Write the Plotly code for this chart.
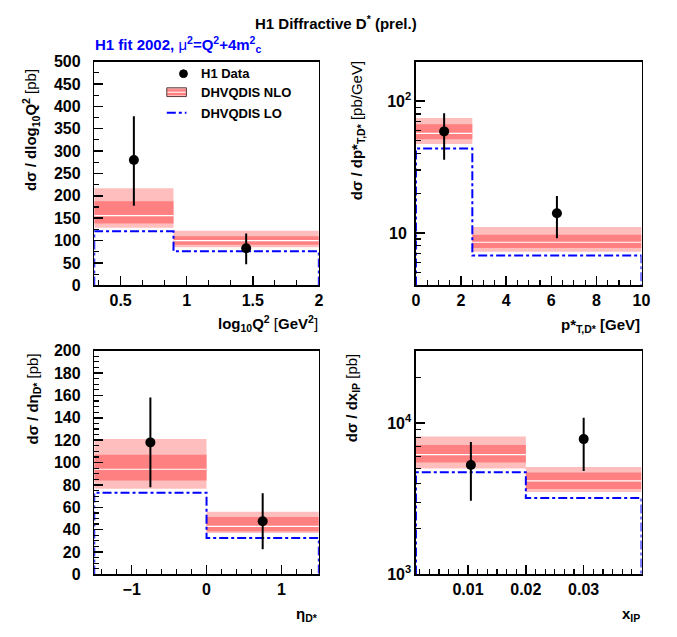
import math
import plotly.graph_objects as go

# ---------------- data ----------------
# Panel 1: d sigma / d log10 Q^2
q2_edges = [0.3, 0.9, 2.0]
q2_x = [0.6, 1.45]
q2_y = [280, 83]
q2_err_up = [98, 33]
q2_err_dn = [102, 36]
q2_nlo = [156, 100]
q2_nlo_in_lo = [138, 91]
q2_nlo_in_hi = [188, 110]
q2_nlo_out_lo = [129, 85]
q2_nlo_out_hi = [217, 122]
q2_lo = [121, 76]

# Panel 2: d sigma / d pT*
pt_edges = [0.0, 2.5, 10.0]
pt_x = [1.25, 6.25]
pt_y = [59, 14.1]
pt_err_up = [22, 5.0]
pt_err_dn = [23, 5.0]
pt_nlo = [57, 8.5]
pt_nlo_in_lo = [51.4, 7.7]
pt_nlo_in_hi = [66.7, 9.7]
pt_nlo_out_lo = [47.4, 7.2]
pt_nlo_out_hi = [74.6, 11.1]
pt_lo = [43.7, 6.74]

# Panel 3: d sigma / d eta
eta_edges = [-1.5, 0.0, 1.5]
eta_x = [-0.75, 0.75]
eta_y = [118, 47.6]
eta_err_up = [40, 25]
eta_err_dn = [40, 25]
eta_nlo = [94, 43]
eta_nlo_in_lo = [84, 38.6]
eta_nlo_in_hi = [107, 51.3]
eta_nlo_out_lo = [76.5, 37.1]
eta_nlo_out_hi = [121, 56]
eta_lo = [73, 32.5]

# Panel 4: d sigma / d x_IP
xp_edges = [0.001, 0.02, 0.04]
xp_x = [0.0105, 0.03]
xp_y = [5270, 7820]
xp_err_up = [2200, 2980]
xp_err_dn = [2210, 3000]
xp_nlo = [6170, 4140]
xp_nlo_in_lo = [5480, 3660]
xp_nlo_in_hi = [7150, 4700]
xp_nlo_out_lo = [5010, 3500]
xp_nlo_out_hi = [8130, 5120]
xp_lo = [4720, 3200]

# ---------------- style ----------------
W, H = 677, 637
FONT = "Liberation Sans"
LIGHT = "rgb(255,190,190)"
DARK = "rgb(255,128,128)"
BLUE = "rgb(0,0,255)"
NB = "\u00a0"


def px(x):
    return x / W


def py(y):
    return 1 - y / H


def rects(edges, lo, hi):
    xs, ys = [], []
    for i in range(len(lo)):
        x0, x1 = edges[i], edges[i + 1]
        xs += [x0, x1, x1, x0, x0, None]
        ys += [lo[i], lo[i], hi[i], hi[i], lo[i], None]
    return xs, ys


def segs(edges, v):
    xs, ys = [], []
    for i in range(len(v)):
        xs += [edges[i], edges[i + 1], None]
        ys += [v[i], v[i], None]
    return xs, ys


def steps(edges, v, base):
    xs = [edges[0]]
    ys = [base]
    for i in range(len(v)):
        xs += [edges[i], edges[i + 1]]
        ys += [v[i], v[i]]
    xs.append(edges[-1])
    ys.append(base)
    return xs, ys


fig = go.Figure()

panels = [
    dict(ax="", edges=q2_edges, x=q2_x, y=q2_y, up=q2_err_up, dn=q2_err_dn, nlo=q2_nlo,
         ilo=q2_nlo_in_lo, ihi=q2_nlo_in_hi, olo=q2_nlo_out_lo, ohi=q2_nlo_out_hi, lo=q2_lo, base=0),
    dict(ax="2", edges=pt_edges, x=pt_x, y=pt_y, up=pt_err_up, dn=pt_err_dn, nlo=pt_nlo,
         ilo=pt_nlo_in_lo, ihi=pt_nlo_in_hi, olo=pt_nlo_out_lo, ohi=pt_nlo_out_hi, lo=pt_lo, base=4),
    dict(ax="3", edges=eta_edges, x=eta_x, y=eta_y, up=eta_err_up, dn=eta_err_dn, nlo=eta_nlo,
         ilo=eta_nlo_in_lo, ihi=eta_nlo_in_hi, olo=eta_nlo_out_lo, ohi=eta_nlo_out_hi, lo=eta_lo, base=0),
    dict(ax="4", edges=xp_edges, x=xp_x, y=xp_y, up=xp_err_up, dn=xp_err_dn, nlo=xp_nlo,
         ilo=xp_nlo_in_lo, ihi=xp_nlo_in_hi, olo=xp_nlo_out_lo, ohi=xp_nlo_out_hi, lo=xp_lo, base=1000),
]

for p in panels:
    xa = "x" + p["ax"]
    ya = "y" + p["ax"]
    xs, ys = rects(p["edges"], p["olo"], p["ohi"])
    fig.add_trace(go.Scatter(x=xs, y=ys, fill="toself", fillcolor=LIGHT, mode="lines",
                             line=dict(width=0), xaxis=xa, yaxis=ya, showlegend=False, hoverinfo="skip"))
    xs, ys = rects(p["edges"], p["ilo"], p["ihi"])
    fig.add_trace(go.Scatter(x=xs, y=ys, fill="toself", fillcolor=DARK, mode="lines",
                             line=dict(width=0), xaxis=xa, yaxis=ya, showlegend=False, hoverinfo="skip"))
    xs, ys = segs(p["edges"], p["nlo"])
    fig.add_trace(go.Scatter(x=xs, y=ys, mode="lines", line=dict(color="white", width=1.2),
                             xaxis=xa, yaxis=ya, showlegend=False, hoverinfo="skip"))
    xs, ys = steps(p["edges"], p["lo"], p["base"])
    fig.add_trace(go.Scatter(x=xs, y=ys, mode="lines", line=dict(color=BLUE, width=2, dash="dashdot"),
                             xaxis=xa, yaxis=ya, showlegend=False, hoverinfo="skip"))
    fig.add_trace(go.Scatter(x=p["x"], y=p["y"], mode="markers",
                             marker=dict(color="black", size=10),
                             error_y=dict(type="data", symmetric=False, array=p["up"], arrayminus=p["dn"],
                                          color="black", thickness=2, width=0),
                             xaxis=xa, yaxis=ya, showlegend=False))

tickfont = dict(family=FONT, size=16, color="black", weight="bold")
common = dict(showgrid=False, zeroline=False, showline=True, linecolor="black", linewidth=1.5,
              mirror=True, ticks="inside", ticklen=9, tickwidth=1.5, tickcolor="black",
              tickfont=tickfont)

# domains
xd_left = [px(92), px(321)]
xd_right = [px(420), px(650)]
yd_top = [py(285), py(55)]
yd_bot = [py(582), py(352)]

fig.update_layout(
    xaxis=dict(domain=xd_left, anchor="y", range=[0.3, 2.0], tickvals=[0.5, 1, 1.5, 2],
               ticktext=["0.5", "1", "1.5", "2"],
               minor=dict(ticks="inside", ticklen=5, dtick=0.5 / 3, tick0=0, tickcolor="black", tickwidth=1.2),
               **common),
    yaxis=dict(domain=yd_top, anchor="x", range=[0, 500], dtick=50, ticksuffix=NB * 2,
               minor=dict(ticks="inside", ticklen=5, dtick=25, tickcolor="black", tickwidth=1.2), **common),
    xaxis2=dict(domain=xd_right, anchor="y2", range=[0, 10], dtick=2,
                minor=dict(ticks="inside", ticklen=5, dtick=0.5, tickcolor="black", tickwidth=1.2), **common),
    yaxis2=dict(domain=yd_top, anchor="x2", type="log", range=[math.log10(4), math.log10(200)],
                tickmode="array", tickvals=[10, 100], ticktext=["10" + NB, "10<sup>2</sup>"],
                minor=dict(ticks="inside", ticklen=5, tickmode="array",
                           tickvals=[5, 6, 7, 8, 9, 20, 30, 40, 50, 60, 70, 80, 90, 200],
                           tickcolor="black", tickwidth=1.2), **common),
    xaxis3=dict(domain=xd_left, anchor="y3", range=[-1.5, 1.5], dtick=1,
                minor=dict(ticks="inside", ticklen=5, dtick=0.2, tickcolor="black", tickwidth=1.2), **common),
    yaxis3=dict(domain=yd_bot, anchor="x3", range=[0, 200], dtick=20, ticksuffix=NB * 2,
                minor=dict(ticks="inside", ticklen=5, dtick=5, tickcolor="black", tickwidth=1.2), **common),
    xaxis4=dict(domain=xd_right, anchor="y4", range=[0.001, 0.04], tickvals=[0.01, 0.02, 0.03],
                ticktext=["0.01", "0.02", "0.03"],
                minor=dict(ticks="inside", ticklen=5, dtick=0.01 / 6, tick0=0, tickcolor="black", tickwidth=1.2),
                **common),
    yaxis4=dict(domain=yd_bot, anchor="x4", type="log", range=[3, math.log10(30000)],
                tickmode="array", tickvals=[1000, 10000], ticktext=["10<sup>3</sup>", "10<sup>4</sup>"],
                minor=dict(ticks="inside", ticklen=5, tickmode="array",
                           tickvals=[2000, 3000, 4000, 5000, 6000, 7000, 8000, 9000, 20000, 30000],
                           tickcolor="black", tickwidth=1.2), **common),
)

annots = []


def ann(text, x, y, xanchor="center", yanchor="middle", size=15, color="black", angle=0):
    annots.append(dict(text=text, x=px(x), y=py(y), xref="paper", yref="paper", xanchor=xanchor,
                       yanchor=yanchor, showarrow=False, textangle=angle,
                       font=dict(family=FONT, size=size, color=color)))


# titles
ann("<b>H1 Diffractive D<sup>*</sup> (prel.)</b>", 338, 15, size=15)
ann("<b>H1 fit 2002, </b>μ<b><sup>2</sup>=Q<sup>2</sup>+4m<sup>2</sup><sub>c</sub></b>", 91, 38,
    xanchor="left", size=15, color=BLUE)

# y-axis titles
ann("<b>dσ / dlog<sub>10</sub>Q<sup>2</sup></b> [pb]", 27, 60, yanchor="top", angle=-90, size=15)
ann("<b>dσ / dp*<sub>T,D*</sub></b> [pb/GeV]", 360, 53, yanchor="top", angle=-90, size=15)
ann("<b>dσ / dη<sub>D*</sub></b> [pb]", 30, 353, yanchor="top", angle=-90, size=15)
ann("<b>dσ / dx<sub>IP</sub></b> [pb]", 355, 353, yanchor="top", angle=-90, size=15)

# x-axis titles
ann("<b>log<sub>10</sub>Q<sup>2</sup></b> [<b>GeV<sup>2</sup></b>]", 322, 324, xanchor="right", size=15)
ann("<b>p*<sub>T,D*</sub> [GeV]</b>", 651, 326, xanchor="right", size=15)
ann("<b>η<sub>D*</sub></b>", 322, 623, xanchor="right", size=15)
ann("<b>x<sub>IP</sub></b>", 651, 623, xanchor="right", size=15)

# legend texts
ann("<b>H1 Data</b>", 199, 67, xanchor="left", size=13)
ann("<b>DHVQDIS NLO</b>", 199, 87, xanchor="left", size=13)
ann("<b>DHVQDIS LO</b>", 199, 108, xanchor="left", size=13)

shapes = [
    # legend marker
    dict(type="circle", xref="paper", yref="paper", x0=px(179), x1=px(187), y0=py(71.5), y1=py(63.5),
         fillcolor="black", line=dict(color="black", width=1)),
    # legend NLO box
    dict(type="rect", xref="paper", yref="paper", x0=px(166), x1=px(186), y0=py(91), y1=py(82),
         fillcolor=LIGHT, line=dict(width=0)),
    dict(type="rect", xref="paper", yref="paper", x0=px(166), x1=px(186), y0=py(89.5), y1=py(83.5),
         fillcolor=DARK, line=dict(width=0)),
    dict(type="line", xref="paper", yref="paper", x0=px(166), x1=px(186), y0=py(86.5), y1=py(86.5),
         line=dict(color="white", width=1)),
    dict(type="rect", xref="paper", yref="paper", x0=px(166), x1=px(186), y0=py(91), y1=py(82),
         fillcolor="rgba(0,0,0,0)", line=dict(color="rgb(90,60,60)", width=1)),
    # legend LO line
    dict(type="line", xref="paper", yref="paper", x0=px(166), x1=px(186), y0=py(107.5), y1=py(107.5),
         line=dict(color=BLUE, width=2, dash="dashdot")),
]

fig.update_layout(
    width=W, height=H, margin=dict(l=0, r=0, t=0, b=0),
    paper_bgcolor="white", plot_bgcolor="white",
    annotations=annots, shapes=shapes, showlegend=False,
)

fig.write_html(
    "out.html",
    config={"displayModeBar": False, "staticPlot": True},
    post_script=(
        "document.body.style.margin='0';document.body.style.padding='0';"
        "document.documentElement.style.overflow='hidden';"
        "var gd=document.getElementById('{plot_id}');"
        "Plotly.relayout(gd,{width:window.innerWidth,height:window.innerHeight});"
    ),
)
